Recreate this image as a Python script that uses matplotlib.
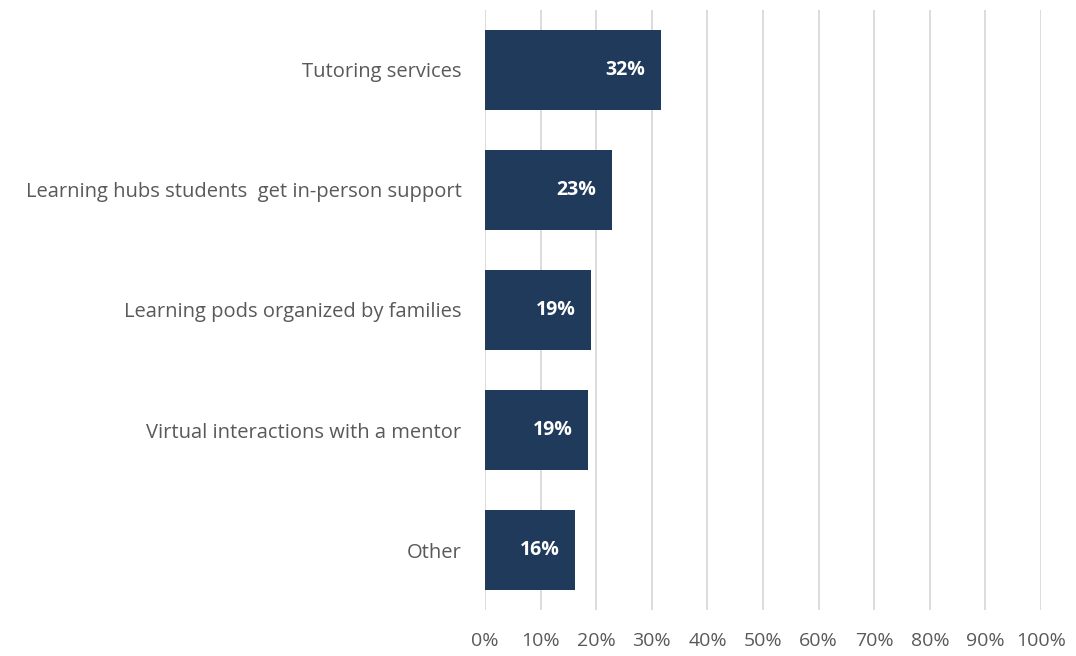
import matplotlib.pyplot as plt
import numpy as np

plt.rcParams['font.family'] = ['Open Sans', 'DejaVu Sans']

categories = ['Tutoring services',
              'Learning hubs students  get in-person support',
              'Learning pods organized by families',
              'Virtual interactions with a mentor',
              'Other']
shares = [31.6, 22.8, 19.1, 18.6, 16.1]
tick_values = [0, 10, 20, 30, 40, 50, 60, 70, 80, 90, 100]

bar_color = '#1F3A5A'
text_gray = '#595959'
grid_gray = '#D9D9D9'

fig = plt.figure(figsize=(10.76, 6.56), dpi=100)
ax = fig.add_axes([0.4508, 0.0701, 0.5167, 0.9147])

y = np.arange(len(categories))
bars = ax.barh(y, shares, height=0.67, color=bar_color, zorder=3)

# value labels sit inside the end of each bar
for rect, v in zip(bars, shares):
    ax.annotate(f'{v:.0f}%', xy=(rect.get_width(), rect.get_y() + rect.get_height() / 2),
                xytext=(-11, 0), textcoords='offset points', ha='right', va='center',
                color='white', fontsize=14, fontweight='bold', zorder=4)

ax.set_xlim(0, 100)
ax.set_ylim(len(categories) - 0.5, -0.5)
ax.set_xticks(tick_values)
ax.set_xticklabels([f'{t}%' for t in tick_values])
ax.set_yticks(y)
ax.set_yticklabels(categories)

ax.xaxis.grid(True, color=grid_gray, linewidth=1.3, zorder=0)
for s in ax.spines.values():
    s.set_visible(False)
ax.tick_params(axis='both', length=0, colors=text_gray)
ax.tick_params(axis='x', pad=16, labelsize=14)
ax.tick_params(axis='y', pad=17, labelsize=14.5)

fig.savefig('out.png', dpi=100)
